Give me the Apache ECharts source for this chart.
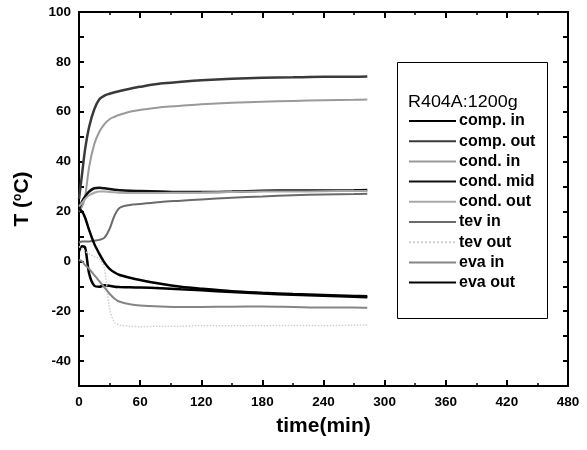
<!DOCTYPE html>
<html>
<head>
<meta charset="utf-8">
<script src="https://cdn.jsdelivr.net/npm/echarts@6/dist/echarts.min.js"></script>
<style>html,body{margin:0;padding:0;background:#fff}#c{width:587px;height:450px}</style>
</head>
<body>
<div id="c"></div>
<script>
var time = [0,3,6,10,15,20,25,30,35,40,50,60,80,100,120,150,180,210,240,270,283];
var compIn  = [4,6,5.5,-5,-9.8,-10.2,-9.6,-9.8,-10.2,-10.3,-10.4,-10.5,-10.8,-11.2,-11.6,-12.3,-12.9,-13.4,-13.8,-14.2,-14.4];
var compOut = [25,35,45,54,61,65,66.5,67.2,67.8,68.3,69.2,70,71.3,72,72.6,73.2,73.6,73.8,74,74,74.1];
var condIn  = [20,22,26,38,47,52,55,57,58,58.8,60,60.7,61.8,62.4,63,63.6,64,64.3,64.6,64.8,64.9];
var condMid = [21,24,26,28,29.3,29.5,29.3,29,28.7,28.5,28.3,28.2,28,27.8,27.8,28,28.3,28.4,28.4,28.5,28.6];
var condOut = [22,23.5,25,26.5,27.5,28,28,27.8,27.7,27.5,27.4,27.4,27.4,27.5,27.6,27.8,28,28,28.1,28.2,28.2];
var tevIn   = [7.5,8,8,8,8.3,8.6,9.5,13,18.5,21.5,22.6,23,23.8,24.3,24.8,25.5,26,26.5,26.8,27,27.1];
var tevOut  = [6,5,4,3,2,1,-3,-19,-24.5,-25.5,-26,-26.2,-26,-26,-25.8,-25.8,-25.8,-25.7,-25.8,-25.6,-25.5];
var evaIn   = [0.5,0,-1.5,-3,-5.5,-8,-10.5,-13,-15,-16.2,-17.2,-17.7,-18.1,-18.3,-18.3,-18.2,-18.1,-18.3,-18.5,-18.5,-18.6];
var evaOut  = [21,20,17.5,12.5,7,3,-0.5,-3,-4.5,-5.5,-6.6,-7.5,-9,-10.2,-11,-12,-12.6,-13.1,-13.5,-13.9,-14];
var names = ['comp. in','comp. out','cond. in','cond. mid','cond. out','tev in','tev out','eva in','eva out'];
var values = [compIn,compOut,condIn,condMid,condOut,tevIn,tevOut,evaIn,evaOut];
var colors = ['#000000','#3a3a3a','#9a9a9a','#111111','#a8a8a8','#6a6a6a','#cfcfcf','#858585','#000000'];
var widths = [2.5,2.5,2,2.5,2,2,1.5,2,2.5];
var xTicks = [0,60,120,180,240,300,360,420,480];
var yTicks = [-40,-20,0,20,40,60,80,100];

function pairs(v){ return time.map(function(t,i){ return [t, v[i]]; }); }
var font = 'Arial, "Liberation Sans", sans-serif';
var chart = echarts.init(document.getElementById('c'));
var axLine = {show:true, onZero:false, lineStyle:{color:'#000', width:2}};
var xBase = function(pos, labels){
  return {type:'value', position:pos, min:0, max:480, interval:60,
    axisLine:axLine,
    axisTick:{show:true, inside:true, length:6, lineStyle:{color:'#000', width:2}},
    minorTick:{show:true, splitNumber:2, length:3, lineStyle:{color:'#000', width:1.5}},
    splitLine:{show:false}, minorSplitLine:{show:false},
    axisLabel:{show:labels, color:'#000', fontFamily:font, fontWeight:'bold', fontSize:13.5, margin:9,
      formatter:function(v){ return xTicks.indexOf(v)>=0 ? String(v) : ''; }},
    name: labels ? 'time(min)' : '', nameLocation:'middle', nameGap:30,
    nameTextStyle:{color:'#000', fontFamily:font, fontWeight:'bold', fontSize:21}
  };
};
var yBase = function(pos, labels){
  return {type:'value', position:pos, min:-50, max:100, interval:10,
    axisLine:axLine,
    axisTick:{show:true, inside:true, length:5, lineStyle:{color:'#000', width:2}},
    splitLine:{show:false},
    axisLabel:{show:labels, color:'#000', fontFamily:font, fontWeight:'bold', fontSize:13.5, margin:8,
      formatter:function(v){ return yTicks.indexOf(v)>=0 ? String(v) : ''; }},
    name: labels ? '{a|T (}{s|o}{a|C)}' : '', nameLocation:'middle', nameGap:46,
    nameTextStyle:{color:'#000', fontFamily:font, fontWeight:'bold', fontSize:21,
      rich:{a:{fontFamily:font, fontWeight:'bold', fontSize:21, color:'#000'},
            s:{fontFamily:font, fontWeight:'bold', fontSize:12, color:'#000', verticalAlign:'top', padding:[0,0,9,0]}}}
  };
};
var series = names.map(function(n,i){
  return {name:n, type:'line', xAxisIndex:0, yAxisIndex:0, data:pairs(values[i]),
    symbol:'none', smooth:0.3, silent:true, animation:false,
    lineStyle:{color:colors[i], width:widths[i], type: n==='tev out' ? 'dotted' : 'solid'},
    itemStyle:{color:colors[i]}};
});
chart.setOption({
  animation:false,
  grid:{left:79, right:19, top:12, bottom:64, containLabel:false},
  xAxis:[xBase('bottom', true), xBase('top', false)],
  yAxis:[yBase('left', true), yBase('right', false)],
  legend:{data:names, orient:'vertical', left:408, top:113, itemWidth:47, itemHeight:16, itemGap:4.2,
    selectedMode:false, padding:0, itemStyle:{opacity:0},
    textStyle:{color:'#000', fontFamily:font, fontWeight:'bold', fontSize:16, lineHeight:16, padding:[0,0,0,-2]}},
  graphic:[
    {type:'rect', shape:{x:397.5, y:62.5, width:150, height:256}, style:{fill:null, stroke:'#000', lineWidth:1}, z:1},
    {type:'text', x:408, y:95, scaleX:1.12, style:{text:'R404A:1200g', fill:'#000', font:'16px ' + font}}
  ],
  series:series
});
</script>
</body>
</html>
